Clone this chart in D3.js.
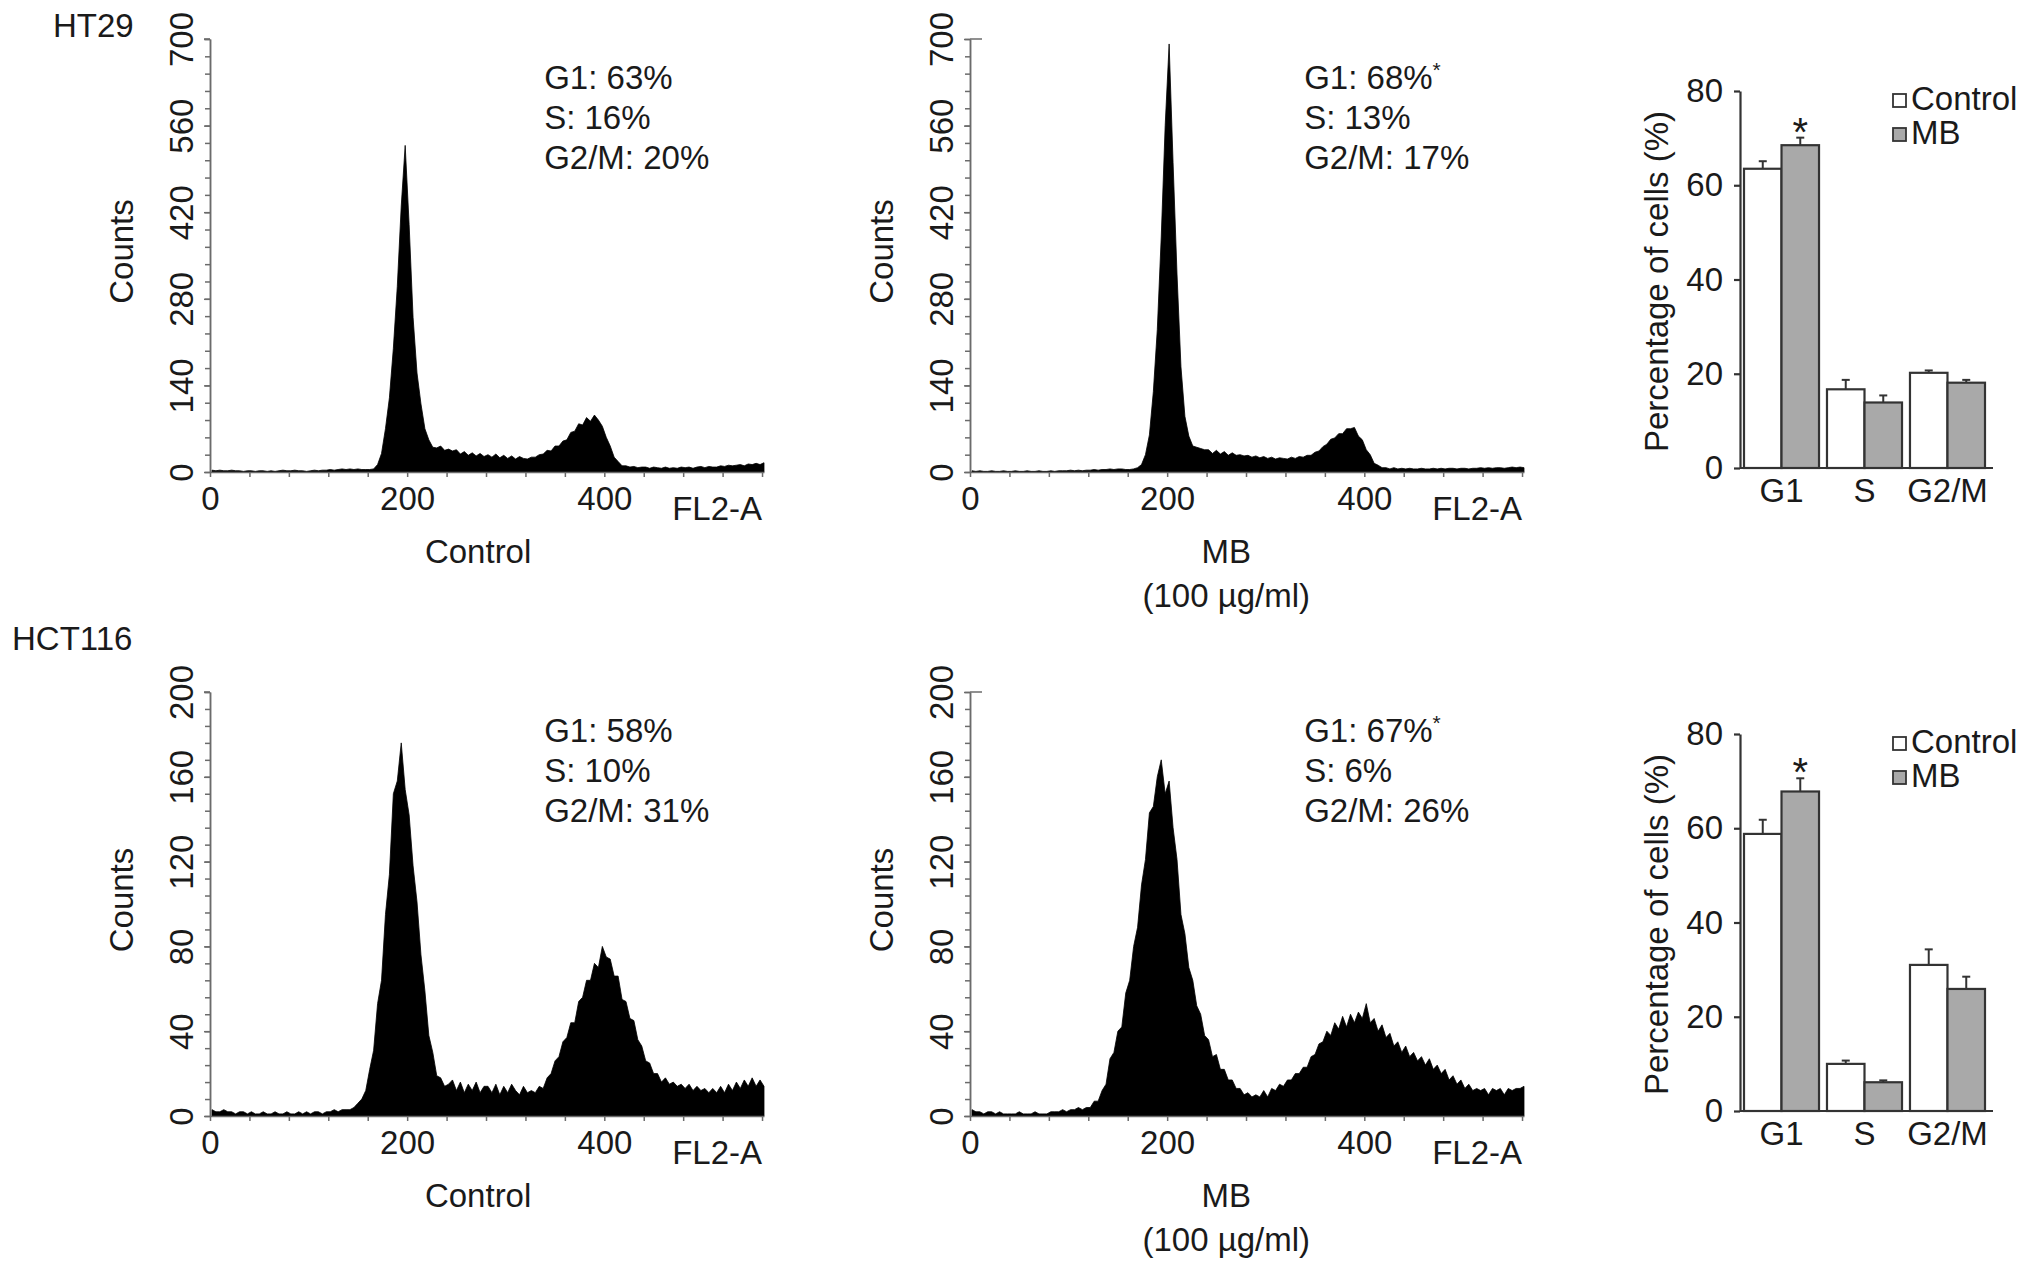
<!DOCTYPE html>
<html>
<head>
<meta charset="utf-8">
<script src="https://cdn.jsdelivr.net/npm/d3@7"></script>
<style>
  body { margin: 0; background: #fff; }
  text { font-family: "Liberation Sans", Arial, Helvetica, sans-serif; fill: #1a1a1a; }
</style>
</head>
<body>
<div id="fig"></div>
<script>
// FL2-A histograms, counts per 4-channel bin (bin i = channels 4i..4i+4)
var binWidth = 4;
var fl2Max = 562;

var ht29Control = [
  3,2,3,2,2,3,2,2,1,2,   2,1,2,2,1,2,1,2,3,2,   2,3,2,2,1,2,3,2,3,3,   4,3,4,5,4,5,4,5,4,4,
  4,5,12,30,70,120,200,300,430,528,   400,250,160,110,70,52,40,39,42,35,
  37,34,36,29,33,27,31,26,30,25,   28,24,29,23,27,22,26,21,25,22,
  21,24,24,28,29,35,34,42,42,50,   52,64,66,78,76,88,82,92,84,74,
  56,42,24,17,10,10,8,9,7,8,   8,6,8,7,6,8,6,7,6,8,   7,8,6,8,9,7,9,8,8,10,
  9,11,10,11,12,10,13,12,14,12,15
];
var ht29MB = [
  2,1,2,1,1,2,1,1,2,1,   1,2,1,1,2,1,1,2,1,1,   2,1,2,2,2,3,2,3,2,3,   3,4,3,4,4,5,4,5,5,4,
  4,5,7,12,28,60,130,230,380,560,   692,500,320,170,90,58,42,40,38,36,
  36,30,35,29,33,27,31,27,28,26,   27,24,26,23,25,22,24,21,23,22,
  21,24,22,25,24,27,27,32,34,41,   45,53,55,62,62,70,70,72,58,52,
  36,28,14,11,7,7,5,7,5,6,   5,6,5,5,6,5,5,6,5,6,   5,6,6,5,6,6,5,6,6,7,
  6,7,6,7,7,6,7,8,7,8,7
];
var hct116Control = [
  3,2,2,3,2,2,1,2,2,1,   2,1,1,2,1,1,2,1,1,2,   1,1,2,1,2,1,2,2,1,2,   2,3,2,3,3,3,4,6,8,12,
  22,31,53,64,95,114,152,158,176,154,   142,118,101,76,59,38,30,19,18,14,
  15,17,12,16,11,15,12,16,11,14,   14,11,15,10,14,11,15,12,10,14,
  11,12,11,14,13,18,20,26,28,35,   37,44,44,54,56,64,64,72,70,80,
  75,74,66,66,55,54,46,45,36,33,   26,25,20,20,16,18,15,16,14,15,
  13,15,12,14,12,13,11,13,11,14,   11,15,12,16,13,17,14,18,14,17,14
];
var hct116MB = [
  3,2,2,1,2,2,1,2,1,1,   1,1,2,1,1,1,2,1,1,1,   2,2,2,3,2,3,3,4,3,4,   4,7,7,12,15,27,30,40,42,58,
  64,80,89,109,121,143,146,160,168,152,   158,136,121,95,86,70,64,52,48,38,
  36,28,29,22,22,17,17,13,13,10,   11,9,10,9,12,9,13,12,15,14,
  17,17,20,20,23,23,28,29,34,35,   40,38,44,41,47,42,48,44,49,46,
  53,44,46,40,43,37,39,33,35,30,   33,28,30,26,28,24,27,22,24,20,
  22,17,19,15,17,13,15,12,13,12,   13,10,13,12,13,10,13,12,13,13,14
];

// percentages in each cell-cycle phase (mean and upper error)
var phases = ["G1", "S", "G2/M"];
var groups = ["Control", "MB"];
var ht29ControlPct = [63.5, 16.7, 20.2];
var ht29ControlErr = [1.6, 2.0, 0.5];
var ht29MBPct = [68.5, 13.9, 18.1];
var ht29MBErr = [1.6, 1.5, 0.6];
var hct116ControlPct = [58.8, 10.0, 31.0];
var hct116ControlErr = [3.0, 0.7, 3.3];
var hct116MBPct = [67.8, 6.1, 25.9];
var hct116MBErr = [2.8, 0.4, 2.6];

var ht29ControlText = ["G1: 63%", "S: 16%", "G2/M: 20%"];
var ht29MBText = ["G1: 68%", "S: 13%", "G2/M: 17%"];
var hct116ControlText = ["G1: 58%", "S: 10%", "G2/M: 31%"];
var hct116MBText = ["G1: 67%", "S: 6%", "G2/M: 26%"];

var ht29CountTicks = [0, 140, 280, 420, 560, 700];
var hct116CountTicks = [0, 40, 80, 120, 160, 200];
var fl2Ticks = [0, 200, 400];
var pctTicks = [0, 20, 40, 60, 80];

var fontSize = 33;
var axisGray = "#6b6b6b";

var svg = d3.select("#fig")
  .append("svg")
  .attr("width", 2032)
  .attr("height", 1266);

// one flow cytometry histogram
function histogram(data, ticks, p) {
  var x = d3.scaleLinear().domain([0, fl2Max]).range([p.left, p.left + 554]);
  var y = d3.scaleLinear().domain([0, ticks[ticks.length - 1]]).range([p.base, p.top]);
  var g = svg.append("g");

  var area = d3.area()
    .x(function(d, i) { return x(Math.min(fl2Max, i * binWidth + binWidth / 2)); })
    .y0(y(0))
    .y1(function(d) { return y(d); });

  g.append("path")
    .datum(data)
    .attr("d", area)
    .attr("fill", "#000")
    .attr("stroke", "#000")
    .attr("stroke-width", 0.8);

  // y axis, minor ticks then the labelled ones
  var step = ticks[1] / 5;
  var yMinor = g.append("g")
    .attr("transform", "translate(" + p.left + ",0)")
    .call(d3.axisLeft(y).tickValues(d3.range(0, ticks[ticks.length - 1] + 1, step)).tickSize(5).tickSizeOuter(0).tickFormat(""));
  var yAxis = g.append("g")
    .attr("transform", "translate(" + p.left + ",0)")
    .call(d3.axisLeft(y).tickValues(ticks).tickSize(6).tickSizeOuter(0));
  yAxis.selectAll("text")
    .attr("x", 0)
    .attr("y", -17)
    .attr("dy", 0)
    .attr("text-anchor", "middle")
    .attr("transform", "rotate(-90)");

  var xAxis = g.append("g")
    .attr("transform", "translate(0," + p.base + ")")
    .call(d3.axisBottom(x).tickValues(d3.range(0, fl2Max, 40)).tickSize(5).tickSizeOuter(0).tickPadding(10)
      .tickFormat(function(d) { return fl2Ticks.indexOf(d) >= 0 ? d : ""; }));

  [yMinor, yAxis, xAxis].forEach(function(a) {
    a.selectAll("path, line").attr("stroke", axisGray).attr("stroke-width", 1.5);
    a.selectAll("text").style("font-size", fontSize + "px").attr("fill", "#1a1a1a");
  });

  // little stub at the top of the count axis
  g.append("line")
    .attr("x1", p.left).attr("x2", p.left + p.stub)
    .attr("y1", y.range()[1]).attr("y2", y.range()[1])
    .attr("stroke", axisGray).attr("stroke-width", 1.5);

  g.append("text")
    .attr("transform", "translate(" + (p.left - 77) + "," + ((p.base + p.top) / 2 - 4) + ") rotate(-90)")
    .attr("text-anchor", "middle")
    .style("font-size", fontSize + "px")
    .text("Counts");

  g.append("text")
    .attr("x", x(fl2Max) - 2)
    .attr("y", p.base + 48)
    .attr("text-anchor", "end")
    .style("font-size", fontSize + "px")
    .text("FL2-A");

  p.caption.forEach(function(c, i) {
    g.append("text")
      .attr("x", x(p.captionAt))
      .attr("y", p.base + 91 + i * 44)
      .attr("text-anchor", "middle")
      .style("font-size", fontSize + "px")
      .text(c);
  });

  p.lines.forEach(function(t, i) {
    var tx = g.append("text")
      .attr("x", x(339))
      .attr("y", p.top + 50 + i * 40)
      .style("font-size", fontSize + "px")
      .text(t);
    if (i == 0 && p.star) {
      tx.append("tspan").attr("dy", -12).style("font-size", "21px").text("*");
    }
  });
}

// grouped bar chart of phase percentages
function barChart(ctrl, ctrlErr, mb, mbErr, p) {
  var y = d3.scaleLinear().domain([0, 80]).range([p.base, p.top]);
  var x = d3.scaleBand().domain(phases).range([p.left + 4, p.left + 245]).paddingInner(0.096).paddingOuter(0);
  var xs = d3.scaleBand().domain(groups).range([0, x.bandwidth()]);
  var g = svg.append("g");

  var rows = phases.map(function(ph, i) {
    return [
      { phase: ph, group: "Control", v: ctrl[i], e: ctrlErr[i] },
      { phase: ph, group: "MB", v: mb[i], e: mbErr[i] }
    ];
  });
  rows = [].concat.apply([], rows);

  var colour = { Control: "#ffffff", MB: "#a9a9a9" };

  // error bars (upper half only)
  var eb = g.selectAll(".eb").data(rows).enter().append("g");
  eb.append("line")
    .attr("x1", function(d) { return x(d.phase) + xs(d.group) + xs.bandwidth() / 2; })
    .attr("x2", function(d) { return x(d.phase) + xs(d.group) + xs.bandwidth() / 2; })
    .attr("y1", function(d) { return y(d.v); })
    .attr("y2", function(d) { return y(d.v + d.e); })
    .attr("stroke", "#333").attr("stroke-width", 2);
  eb.append("line")
    .attr("x1", function(d) { return x(d.phase) + xs(d.group) + xs.bandwidth() / 2 - 4; })
    .attr("x2", function(d) { return x(d.phase) + xs(d.group) + xs.bandwidth() / 2 + 4; })
    .attr("y1", function(d) { return y(d.v + d.e); })
    .attr("y2", function(d) { return y(d.v + d.e); })
    .attr("stroke", "#333").attr("stroke-width", 2);

  g.selectAll("rect").data(rows).enter().append("rect")
    .attr("x", function(d) { return x(d.phase) + xs(d.group); })
    .attr("y", function(d) { return y(d.v); })
    .attr("width", xs.bandwidth())
    .attr("height", function(d) { return y(0) - y(d.v); })
    .attr("fill", function(d) { return colour[d.group]; })
    .attr("stroke", "#333")
    .attr("stroke-width", 2.2);

  // significance star over MB G1
  g.append("text")
    .attr("x", x("G1") + xs("MB") + xs.bandwidth() / 2)
    .attr("y", y(mb[0] + mbErr[0]) + 8)
    .attr("text-anchor", "middle")
    .style("font-size", "40px")
    .text("*");

  var yAxis = g.append("g")
    .attr("transform", "translate(" + p.left + ",0)")
    .call(d3.axisLeft(y).tickValues(pctTicks).tickSize(6).tickSizeOuter(0).tickPadding(11));
  var xAxis = g.append("g")
    .attr("transform", "translate(0," + p.base + ")")
    .call(d3.axisBottom(x).tickSize(0).tickPadding(11));
  xAxis.select(".domain").remove();
  g.append("line")
    .attr("x1", p.left).attr("x2", p.right)
    .attr("y1", y(0)).attr("y2", y(0))
    .attr("stroke", "#333").attr("stroke-width", 2.2);

  [yAxis, xAxis].forEach(function(a) {
    a.selectAll("path, line").attr("stroke", "#333").attr("stroke-width", 2.2);
    a.selectAll("text").style("font-size", fontSize + "px").attr("fill", "#1a1a1a");
  });

  g.append("text")
    .attr("transform", "translate(" + (p.left - 72) + "," + ((p.base + p.top) / 2 + 2) + ") rotate(-90)")
    .attr("text-anchor", "middle")
    .style("font-size", fontSize + "px")
    .text("Percentage of cells (%)");

  // legend
  groups.forEach(function(gr, i) {
    var ly = p.top + 19 + i * 34;
    g.append("rect")
      .attr("x", 1893).attr("y", ly - 16)
      .attr("width", 13).attr("height", 13)
      .attr("fill", colour[gr]).attr("stroke", "#333").attr("stroke-width", 1.8);
    g.append("text")
      .attr("x", 1911).attr("y", ly)
      .style("font-size", fontSize + "px")
      .text(gr);
  });
}

// row labels
svg.append("text").attr("x", 53).attr("y", 37).style("font-size", fontSize + "px").text("HT29");
svg.append("text").attr("x", 12).attr("y", 650).style("font-size", fontSize + "px").text("HCT116");

histogram(ht29Control, ht29CountTicks, { left: 210, top: 39, base: 472, stub: -6, lines: ht29ControlText, caption: ["Control"], captionAt: 272 });
histogram(ht29MB, ht29CountTicks, { left: 970, top: 39, base: 472, stub: 12, lines: ht29MBText, star: true, caption: ["MB", "(100 \u00b5g/ml)"], captionAt: 260 });
histogram(hct116Control, hct116CountTicks, { left: 210, top: 692, base: 1116, stub: -6, lines: hct116ControlText, caption: ["Control"], captionAt: 272 });
histogram(hct116MB, hct116CountTicks, { left: 970, top: 692, base: 1116, stub: 12, lines: hct116MBText, star: true, caption: ["MB", "(100 \u00b5g/ml)"], captionAt: 260 });

barChart(ht29ControlPct, ht29ControlErr, ht29MBPct, ht29MBErr, { left: 1740, right: 1993, top: 91, base: 468 });
barChart(hct116ControlPct, hct116ControlErr, hct116MBPct, hct116MBErr, { left: 1740, right: 1993, top: 734, base: 1111 });
</script>
</body>
</html>
